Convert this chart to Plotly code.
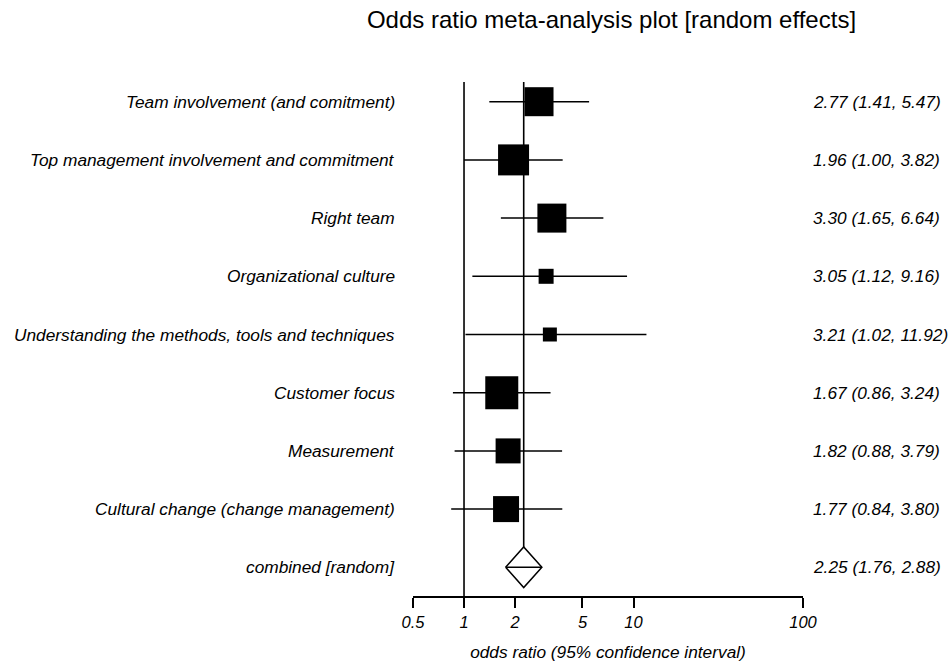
import math
import plotly.graph_objects as go

# ---------------- data ----------------
study_labels = [
    "Team involvement (and comitment)",
    "Top management involvement and commitment",
    "Right team",
    "Organizational culture",
    "Understanding the methods, tools and techniques",
    "Customer focus",
    "Measurement",
    "Cultural change (change management)",
]
odds_ratio = [2.77, 1.96, 3.30, 3.05, 3.21, 1.67, 1.82, 1.77]
ci_lower = [1.41, 1.00, 1.65, 1.12, 1.02, 0.86, 0.88, 0.84]
ci_upper = [5.47, 3.82, 6.64, 9.16, 11.92, 3.24, 3.79, 3.80]
box_size_px = [29, 31, 29, 15, 14, 33, 25, 26]  # weight boxes

combined_label = "combined [random]"
combined_or = 2.25
combined_lower = 1.76
combined_upper = 2.88

tick_values = [0.5, 1, 2, 5, 10, 100]
tick_labels = ["0.5", "1", "2", "5", "10", "100"]

# ---------------- layout constants ----------------
W, H = 952, 662
ML, MR, MT, MB = 413, 149, 60, 66
ROW0_PX, ROW_STEP_PX = 101.7, 58.2
plot_h = H - MT - MB
plot_w = W - ML - MR
y_top = -(ROW0_PX - MT) / ROW_STEP_PX
y_bot = y_top + plot_h / ROW_STEP_PX
line_top = -(ROW0_PX - 82) / ROW_STEP_PX
diamond_half = 20.3 / ROW_STEP_PX
FONT = "Liberation Sans, Arial, Helvetica, sans-serif"
FS = 17.3

n = len(study_labels)
rows = list(range(n))
comb_row = n

fig = go.Figure()

# reference line at OR = 1
fig.add_trace(go.Scatter(x=[1, 1], y=[line_top, y_bot], mode="lines",
                         line=dict(color="black", width=1.6), hoverinfo="skip"))
# line at the combined estimate
fig.add_trace(go.Scatter(x=[combined_or, combined_or],
                         y=[line_top, comb_row - diamond_half], mode="lines",
                         line=dict(color="black", width=1.6), hoverinfo="skip"))

# confidence interval lines
cx, cy = [], []
for r, lo, hi in zip(rows, ci_lower, ci_upper):
    cx += [lo, hi, None]
    cy += [r, r, None]
fig.add_trace(go.Scatter(x=cx, y=cy, mode="lines",
                         line=dict(color="black", width=1.5), hoverinfo="skip"))

# weight boxes
fig.add_trace(go.Scatter(x=odds_ratio, y=rows, mode="markers",
                         marker=dict(symbol="square", size=box_size_px, opacity=1,
                                     color="black", line=dict(width=0))))

# combined diamond
fig.add_trace(go.Scatter(
    x=[combined_lower, combined_or, combined_upper, combined_or, combined_lower],
    y=[comb_row, comb_row - diamond_half, comb_row, comb_row + diamond_half, comb_row],
    mode="lines", fill="toself", fillcolor="white",
    line=dict(color="black", width=1.5), hoverinfo="skip"))
fig.add_trace(go.Scatter(x=[combined_lower, combined_upper], y=[comb_row, comb_row],
                         mode="lines", line=dict(color="black", width=1.5),
                         hoverinfo="skip"))

# text annotations
left_x = (397 - ML) / plot_w
right_x = (811 - ML) / plot_w
all_labels = study_labels + [combined_label]
all_or = odds_ratio + [combined_or]
all_lo = ci_lower + [combined_lower]
all_hi = ci_upper + [combined_upper]
for r, (lab, o, lo, hi) in enumerate(zip(all_labels, all_or, all_lo, all_hi)):
    fig.add_annotation(x=left_x, xref="paper", y=r, yref="y", text=lab,
                       xanchor="right", yanchor="middle", showarrow=False,
                       font=dict(family=FONT, size=FS, color="black", style="italic"))
    fig.add_annotation(x=right_x, xref="paper", y=r, yref="y",
                       text=f"{o:.2f} ({lo:.2f}, {hi:.2f})",
                       xanchor="left", yanchor="middle", showarrow=False,
                       font=dict(family=FONT, size=FS, color="black", style="italic"))

fig.update_layout(
    width=W, height=H,
    margin=dict(l=ML, r=MR, t=MT, b=MB, autoexpand=False),
    paper_bgcolor="white", plot_bgcolor="white",
    showlegend=False,
    title=dict(text="Odds ratio meta-analysis plot [random effects]",
               x=(611.5 - ML) / plot_w, xref="paper", xanchor="center",
               y=1 - 20 / H, yref="container", yanchor="middle",
               font=dict(family=FONT, size=24, color="black")),
    xaxis=dict(type="log", range=[math.log10(0.5), 2], automargin=False,
               tickvals=tick_values, ticktext=tick_labels,
               ticks="outside", ticklen=10, tickwidth=1.5, tickcolor="black",
               showline=True, linewidth=1.5, linecolor="black",
               showgrid=False, zeroline=False,
               tickfont=dict(family=FONT, size=16.5, color="black", style="italic"),
               title=dict(text="odds ratio (95% confidence interval)", standoff=17,
                          font=dict(family=FONT, size=FS, color="black", style="italic"))),
    yaxis=dict(range=[y_bot, y_top], visible=False, automargin=False,
               showgrid=False, zeroline=False),
)

# remove the browser's default 8px body margin so the figure sits at the page origin
fig.write_html("out.html",
               config={"displayModeBar": False},
               post_script="document.body.style.margin='0px';"
                           "document.body.style.overflow='hidden';")
